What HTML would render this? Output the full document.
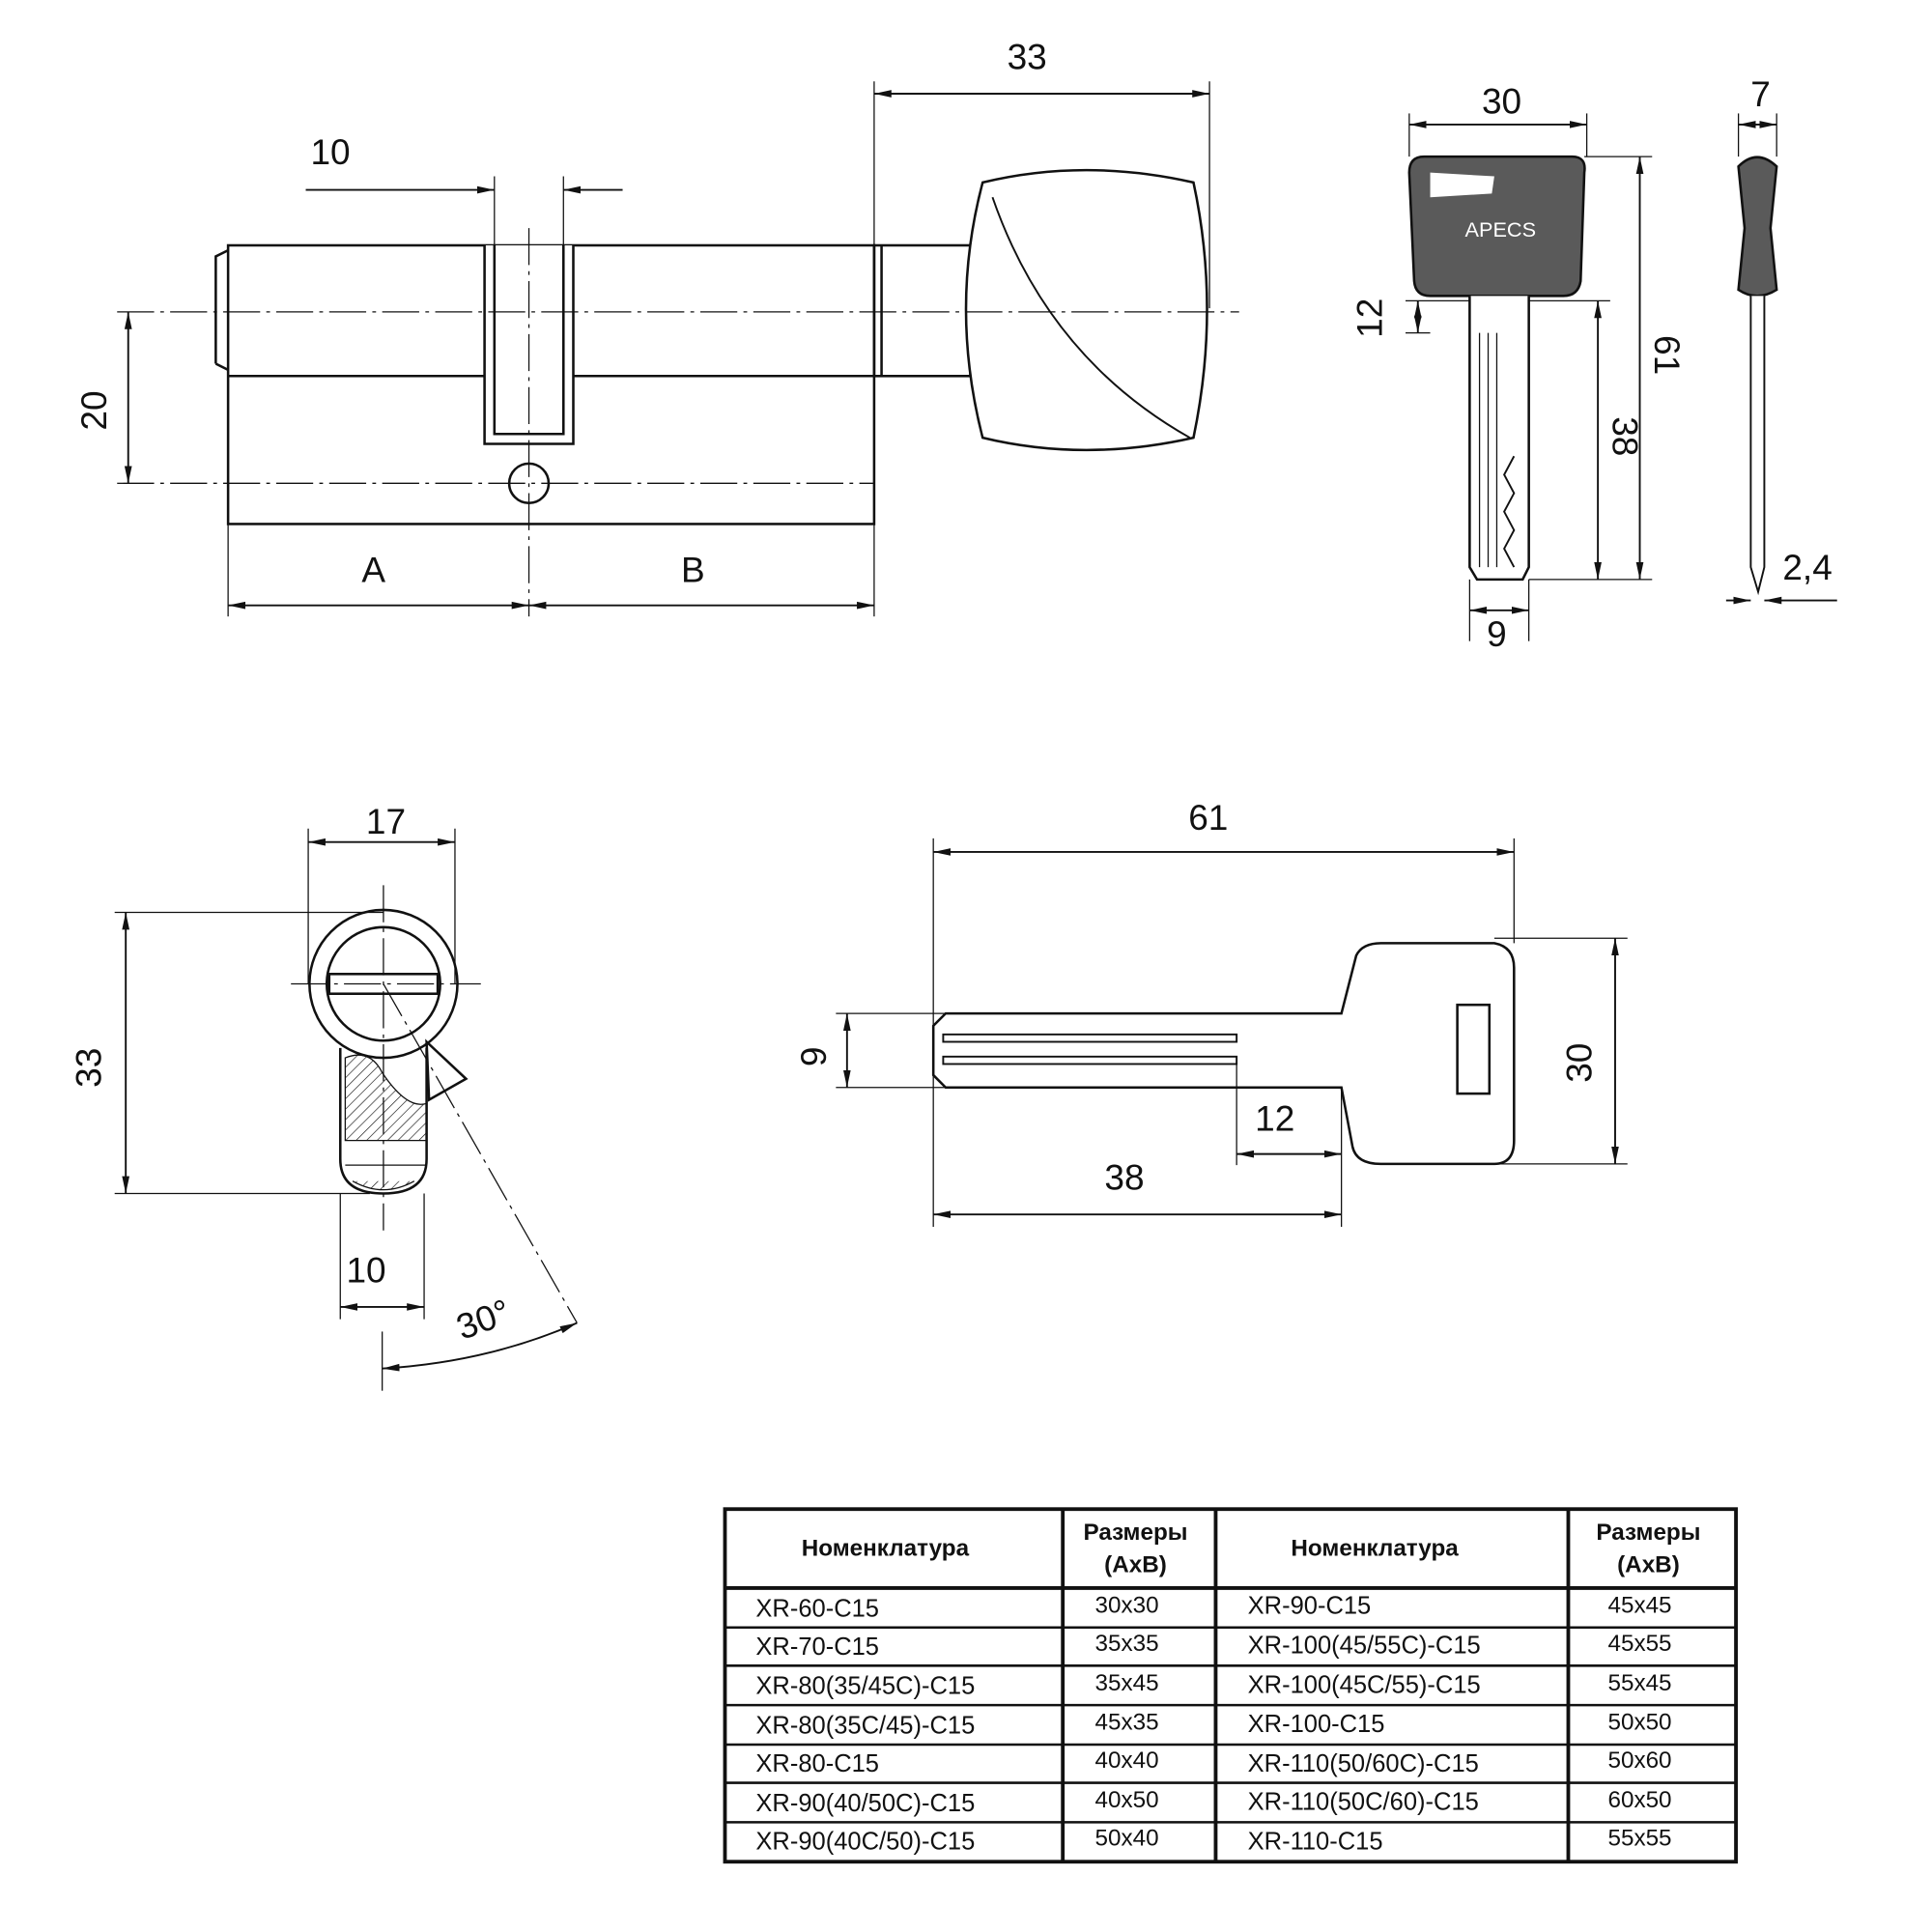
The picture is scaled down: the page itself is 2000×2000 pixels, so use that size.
<!DOCTYPE html>
<html><head><meta charset="utf-8"><style>
html,body{margin:0;padding:0;background:#fff}
svg{display:block}
text{font-family:"Liberation Sans",sans-serif;fill:#111}
</style></head><body>
<svg width="2000" height="2000" viewBox="0 0 1567 1567" xmlns="http://www.w3.org/2000/svg">
<defs>
<marker id="a" markerWidth="14" markerHeight="8" refX="14" refY="4" orient="auto-start-reverse" markerUnits="userSpaceOnUse"><path d="M0,1 L14,4 L0,7 Z" fill="#111"/></marker>
<pattern id="h" width="6" height="6" patternUnits="userSpaceOnUse" patternTransform="rotate(45)"><line x1="0" y1="0" x2="0" y2="6" stroke="#111" stroke-width="1"/></pattern>
</defs>
<g fill="none" stroke="#111" stroke-width="2">
<rect x="185" y="199" width="524" height="226"/>
<path d="M185,305 H393 M465,305 H709"/>
<path d="M393,199 V360 H465 V199" fill="#fff"/>
<path d="M401,199 V352 H457 V199"/>
<path d="M175,295 V208 L185,203 M175,295 L185,300"/>
<rect x="709" y="199" width="78" height="106"/>
<line x1="715" y1="199" x2="715" y2="305"/>
<path d="M797,148 Q880,128 968,148 Q990,250 968,355 Q880,375 797,355 Q770,250 797,148 Z" fill="#fff"/>
<path d="M805,160 Q850,290 965,355" stroke-width="1.5"/>
<circle cx="429" cy="392" r="16" fill="#fff"/>
<g stroke-width="1" stroke-dasharray="30,5,3,5">
<line x1="95" y1="253" x2="1005" y2="253"/>
<line x1="95" y1="392" x2="709" y2="392"/>
<line x1="429" y1="185" x2="429" y2="500"/>
</g>
<g stroke-width="1">
<line x1="709" y1="66" x2="709" y2="199"/><line x1="981" y1="66" x2="981" y2="250"/>
<line x1="401" y1="143" x2="401" y2="199"/><line x1="457" y1="143" x2="457" y2="199"/>
<line x1="185" y1="425" x2="185" y2="500"/><line x1="709" y1="425" x2="709" y2="500"/>
</g>
<g stroke-width="1.5">
<line x1="709" y1="76" x2="981" y2="76" marker-start="url(#a)" marker-end="url(#a)"/>
<line x1="248" y1="154" x2="401" y2="154" marker-end="url(#a)"/>
<line x1="505" y1="154" x2="457" y2="154" marker-end="url(#a)"/>
<line x1="104" y1="253" x2="104" y2="392" marker-start="url(#a)" marker-end="url(#a)"/>
<line x1="185" y1="491" x2="429" y2="491" marker-start="url(#a)" marker-end="url(#a)"/>
<line x1="429" y1="491" x2="709" y2="491" marker-start="url(#a)" marker-end="url(#a)"/>
</g>
<path d="M1155,127 H1275 Q1287,127 1285,140 L1282,228 Q1280,240 1268,240 H1160 Q1148,240 1147,228 L1143,140 Q1143,127 1155,127 Z" fill="#5a5a5a"/>
<path d="M1160,140 L1212,143 L1210,157 L1160,160 Z" fill="#fff" stroke="none"/>
<path d="M1192,240 V460 L1198,470 H1235 L1240,460 V240" fill="#fff"/>
<path d="M1200,270 V460 M1207,270 V460 M1214,270 V460" stroke-width="1"/>
<path d="M1228,370 L1220,385 L1228,400 L1220,415 L1228,430 L1220,445 L1228,460" stroke-width="1.5"/>
<path d="M1410,135 Q1425,120 1441,135 L1436,185 L1441,235 Q1425,245 1410,235 L1415,185 Z" fill="#5a5a5a"/>
<path d="M1420,240 V460 L1426,480 L1431,460 V240" fill="#fff" stroke-width="1.5"/>
<g stroke-width="1">
<line x1="1143" y1="92" x2="1143" y2="127"/><line x1="1287" y1="92" x2="1287" y2="127"/>
<line x1="1285" y1="127" x2="1340" y2="127"/><line x1="1240" y1="470" x2="1340" y2="470"/>
<line x1="1240" y1="244" x2="1306" y2="244"/><line x1="1140" y1="244" x2="1192" y2="244"/><line x1="1140" y1="270" x2="1160" y2="270"/>
<line x1="1192" y1="470" x2="1192" y2="520"/><line x1="1240" y1="470" x2="1240" y2="520"/>
<line x1="1410" y1="92" x2="1410" y2="127"/><line x1="1441" y1="92" x2="1441" y2="127"/>
</g>
<g stroke-width="1.5">
<line x1="1143" y1="101" x2="1287" y2="101" marker-start="url(#a)" marker-end="url(#a)"/>
<line x1="1330" y1="127" x2="1330" y2="470" marker-start="url(#a)" marker-end="url(#a)"/>
<line x1="1296" y1="244" x2="1296" y2="470" marker-start="url(#a)" marker-end="url(#a)"/>
<line x1="1150" y1="244" x2="1150" y2="270" marker-start="url(#a)" marker-end="url(#a)"/>
<line x1="1192" y1="495" x2="1240" y2="495" marker-start="url(#a)" marker-end="url(#a)"/>
<line x1="1410" y1="101" x2="1441" y2="101" marker-start="url(#a)" marker-end="url(#a)"/>
<line x1="1400" y1="487" x2="1420" y2="487" marker-end="url(#a)"/>
<line x1="1490" y1="487" x2="1431" y2="487" marker-end="url(#a)"/>
</g>
<path d="M276,850 V940 Q276,968 311,968 Q346,968 346,940 V850" fill="#fff"/>
<path d="M280,858 Q300,850 310,870 Q330,900 346,895 V925 H280 Z" fill="url(#h)" stroke-width="1"/>
<path d="M280,945 H346 M286,958 Q311,972 336,958" fill="url(#h)" stroke-width="1"/>
<circle cx="311" cy="798" r="60" fill="#fff"/>
<circle cx="311" cy="798" r="46"/>
<rect x="267" y="790" width="88" height="16"/>
<path d="M346,845 L378,875 L348,892 Z" fill="#fff"/>
<g stroke-width="1" stroke-dasharray="30,5,3,5">
<line x1="311" y1="718" x2="311" y2="998"/><line x1="236" y1="798" x2="390" y2="798"/>
<line x1="311" y1="798" x2="468" y2="1073"/>
</g>
<g stroke-width="1">
<line x1="250" y1="672" x2="250" y2="798"/><line x1="369" y1="672" x2="369" y2="798"/>
<line x1="93" y1="740" x2="311" y2="740"/><line x1="93" y1="968" x2="300" y2="968"/>
<line x1="276" y1="968" x2="276" y2="1070"/><line x1="344" y1="968" x2="344" y2="1070"/>
<line x1="310" y1="1080" x2="310" y2="1128"/>
</g>
<g stroke-width="1.5">
<line x1="250" y1="683" x2="369" y2="683" marker-start="url(#a)" marker-end="url(#a)"/>
<line x1="102" y1="740" x2="102" y2="968" marker-start="url(#a)" marker-end="url(#a)"/>
<line x1="276" y1="1060" x2="344" y2="1060" marker-start="url(#a)" marker-end="url(#a)"/>
<path d="M310,1110 Q395,1105 468,1073" marker-start="url(#a)" marker-end="url(#a)"/>
</g>
<path d="M767,822 H1088 L1100,775 Q1105,765 1120,765 H1212 Q1228,768 1228,785 V925 Q1228,944 1212,944 H1120 Q1100,944 1097,930 L1088,882 H767 L757,872 V832 Z" fill="#fff"/>
<rect x="1182" y="815" width="26" height="72"/>
<rect x="765" y="839" width="238" height="6" stroke-width="1.5"/>
<rect x="765" y="857" width="238" height="6" stroke-width="1.5"/>
<g stroke-width="1">
<line x1="757" y1="680" x2="757" y2="995"/><line x1="1228" y1="680" x2="1228" y2="765"/>
<line x1="678" y1="822" x2="767" y2="822"/><line x1="678" y1="882" x2="767" y2="882"/>
<line x1="1212" y1="761" x2="1320" y2="761"/><line x1="1212" y1="944" x2="1320" y2="944"/>
<line x1="1003" y1="863" x2="1003" y2="945"/><line x1="1088" y1="882" x2="1088" y2="995"/>
</g>
<g stroke-width="1.5">
<line x1="757" y1="691" x2="1228" y2="691" marker-start="url(#a)" marker-end="url(#a)"/>
<line x1="687" y1="822" x2="687" y2="882" marker-start="url(#a)" marker-end="url(#a)"/>
<line x1="1310" y1="761" x2="1310" y2="944" marker-start="url(#a)" marker-end="url(#a)"/>
<line x1="1003" y1="936" x2="1088" y2="936" marker-start="url(#a)" marker-end="url(#a)"/>
<line x1="757" y1="985" x2="1088" y2="985" marker-start="url(#a)" marker-end="url(#a)"/>
</g>
<rect x="588" y="1224" width="820" height="286" stroke-width="3"/>
<path d="M862,1224 V1510 M986,1224 V1510 M1272,1224 V1510" stroke-width="3"/>
<path d="M588,1288 H1408" stroke-width="3"/>
<path d="M588,1320 H1408 M588,1351 H1408 M588,1383 H1408 M588,1415 H1408 M588,1446 H1408 M588,1478 H1408" stroke-width="2"/>
</g>
<g font-size="29">
<text x="833" y="56" text-anchor="middle">33</text>
<text x="268" y="133" text-anchor="middle">10</text>
<text x="86" y="333" text-anchor="middle" transform="rotate(-90 86 333)">20</text>
<text x="303" y="472" text-anchor="middle">A</text>
<text x="562" y="472" text-anchor="middle">B</text>
<text x="1218" y="92" text-anchor="middle">30</text>
<text x="1121" y="258" text-anchor="middle" transform="rotate(-90 1121 258)">12</text>
<text x="1342" y="288" text-anchor="middle" transform="rotate(90 1342 288)">61</text>
<text x="1308" y="354" text-anchor="middle" transform="rotate(90 1308 354)">38</text>
<text x="1214" y="524" text-anchor="middle">9</text>
<text x="1428" y="86" text-anchor="middle">7</text>
<text x="1466" y="470" text-anchor="middle">2,4</text>
<text x="313" y="676" text-anchor="middle">17</text>
<text x="82" y="866" text-anchor="middle" transform="rotate(-90 82 866)">33</text>
<text x="297" y="1040" text-anchor="middle">10</text>
<text x="392" y="1080" text-anchor="middle" transform="rotate(-20 392 1070)">30°</text>
<text x="980" y="673" text-anchor="middle">61</text>
<text x="670" y="857" text-anchor="middle" transform="rotate(-90 670 857)">9</text>
<text x="1291" y="862" text-anchor="middle" transform="rotate(-90 1291 862)">30</text>
<text x="1034" y="917" text-anchor="middle">12</text>
<text x="912" y="965" text-anchor="middle">38</text>
</g>
<text x="1217" y="192" font-size="17" text-anchor="middle" style="fill:#fff">APECS</text>
<g font-size="19" font-weight="bold" text-anchor="middle">
<text x="718" y="1262">Номенклатура</text>
<text x="921" y="1249">Размеры</text><text x="921" y="1275">(AxB)</text>
<text x="1115" y="1262">Номенклатура</text>
<text x="1337" y="1249">Размеры</text><text x="1337" y="1275">(AxB)</text>
</g>
<g font-size="20">
<text x="613" y="1311">XR-60-C15</text><text x="613" y="1342">XR-70-C15</text><text x="613" y="1374">XR-80(35/45C)-C15</text><text x="613" y="1406">XR-80(35C/45)-C15</text><text x="613" y="1437">XR-80-C15</text><text x="613" y="1469">XR-90(40/50C)-C15</text><text x="613" y="1500">XR-90(40C/50)-C15</text>
<text x="1012" y="1309">XR-90-C15</text><text x="1012" y="1341">XR-100(45/55C)-C15</text><text x="1012" y="1373">XR-100(45C/55)-C15</text><text x="1012" y="1405">XR-100-C15</text><text x="1012" y="1437">XR-110(50/60C)-C15</text><text x="1012" y="1468">XR-110(50C/60)-C15</text><text x="1012" y="1500">XR-110-C15</text>
</g>
<g font-size="19" text-anchor="middle">
<text x="914" y="1308">30x30</text><text x="914" y="1339">35x35</text><text x="914" y="1371">35x45</text><text x="914" y="1403">45x35</text><text x="914" y="1434">40x40</text><text x="914" y="1466">40x50</text><text x="914" y="1497">50x40</text>
<text x="1330" y="1308">45x45</text><text x="1330" y="1339">45x55</text><text x="1330" y="1371">55x45</text><text x="1330" y="1403">50x50</text><text x="1330" y="1434">50x60</text><text x="1330" y="1466">60x50</text><text x="1330" y="1497">55x55</text>
</g>
</svg>
</body></html>
